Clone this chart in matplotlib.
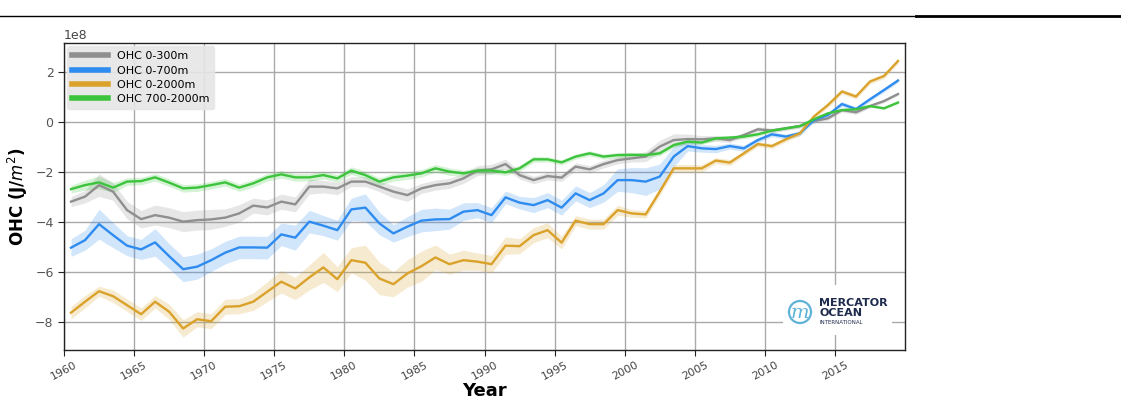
import numpy as np
import matplotlib
matplotlib.use("Agg")
import matplotlib.pyplot as plt
from matplotlib.patches import Circle
from matplotlib.lines import Line2D

# ── Data (units of 1e8 J/m^2, annual means at mid-year) ──────────────────────
years = np.arange(1960, 2020) + 0.5

ohc_300 = [
    -3.17, -2.97, -2.51, -2.77, -3.51, -3.87, -3.71, -3.81, -3.97, -3.91,
    -3.88, -3.81, -3.64, -3.33, -3.40, -3.17, -3.28, -2.57, -2.57, -2.64,
    -2.37, -2.37, -2.57, -2.77, -2.91, -2.64, -2.51, -2.44, -2.24, -1.93,
    -1.88, -1.67, -2.11, -2.31, -2.15, -2.21, -1.77, -1.88, -1.67, -1.51,
    -1.44, -1.37, -0.97, -0.71, -0.67, -0.68, -0.64, -0.71, -0.51, -0.28,
    -0.33, -0.24, -0.15, 0.05, 0.16, 0.49, 0.40, 0.65, 0.85, 1.13,
]
ohc_700 = [
    -5.01, -4.71, -4.07, -4.51, -4.93, -5.08, -4.80, -5.35, -5.87, -5.77,
    -5.51, -5.21, -5.00, -5.00, -5.01, -4.48, -4.61, -3.97, -4.13, -4.31,
    -3.48, -3.41, -4.04, -4.44, -4.17, -3.93, -3.88, -3.87, -3.57, -3.51,
    -3.71, -3.00, -3.21, -3.31, -3.11, -3.41, -2.84, -3.11, -2.84, -2.31,
    -2.31, -2.37, -2.17, -1.37, -0.95, -1.04, -1.07, -0.95, -1.04, -0.71,
    -0.48, -0.57, -0.44, 0.09, 0.29, 0.73, 0.53, 0.92, 1.29, 1.67,
]
ohc_2000 = [
    -7.61, -7.17, -6.75, -6.95, -7.31, -7.67, -7.17, -7.57, -8.24, -7.87,
    -7.95, -7.37, -7.35, -7.17, -6.77, -6.37, -6.64, -6.20, -5.80, -6.27,
    -5.51, -5.61, -6.24, -6.47, -6.04, -5.75, -5.40, -5.67, -5.51, -5.57,
    -5.67, -4.93, -4.95, -4.51, -4.31, -4.81, -3.93, -4.07, -4.07, -3.51,
    -3.64, -3.68, -2.77, -1.84, -1.84, -1.84, -1.53, -1.61, -1.24, -0.87,
    -0.95, -0.68, -0.44, 0.23, 0.69, 1.23, 1.03, 1.63, 1.85, 2.45,
]
ohc_deep = [
    -2.67, -2.51, -2.40, -2.61, -2.37, -2.35, -2.20, -2.41, -2.64, -2.61,
    -2.51, -2.40, -2.61, -2.44, -2.20, -2.08, -2.20, -2.20, -2.11, -2.24,
    -1.93, -2.11, -2.37, -2.20, -2.13, -2.04, -1.84, -1.97, -2.04, -1.93,
    -1.93, -2.00, -1.84, -1.48, -1.48, -1.60, -1.37, -1.24, -1.37, -1.31,
    -1.30, -1.31, -1.24, -0.91, -0.77, -0.81, -0.64, -0.61, -0.57, -0.48,
    -0.33, -0.24, -0.15, 0.12, 0.36, 0.49, 0.52, 0.65, 0.56, 0.79,
]

# half-width of the shaded uncertainty band
err_300 = [
    0.20, 0.25, 0.45, 0.35, 0.35, 0.35, 0.40, 0.40, 0.40, 0.40,
    0.40, 0.35, 0.35, 0.30, 0.30, 0.30, 0.30, 0.30, 0.25, 0.25,
    0.20, 0.20, 0.20, 0.25, 0.25, 0.20, 0.20, 0.20, 0.20, 0.20,
    0.20, 0.20, 0.15, 0.15, 0.15, 0.15, 0.15, 0.15, 0.15, 0.15,
    0.15, 0.20, 0.25, 0.25, 0.20, 0.15, 0.12, 0.10, 0.10, 0.10,
    0.10, 0.08, 0.08, 0.08, 0.08, 0.08, 0.08, 0.08, 0.06, 0.06,
]
err_700 = [
    0.35, 0.40, 0.60, 0.50, 0.40, 0.40, 0.55, 0.50, 0.50, 0.50,
    0.45, 0.45, 0.45, 0.45, 0.45, 0.45, 0.50, 0.45, 0.40, 0.40,
    0.45, 0.55, 0.45, 0.35, 0.40, 0.45, 0.45, 0.40, 0.35, 0.30,
    0.30, 0.25, 0.25, 0.30, 0.30, 0.30, 0.30, 0.30, 0.35, 0.45,
    0.50, 0.55, 0.50, 0.40, 0.20, 0.15, 0.15, 0.12, 0.12, 0.10,
    0.10, 0.10, 0.10, 0.10, 0.10, 0.10, 0.08, 0.08, 0.08, 0.08,
]
err_2000 = [
    0.25, 0.25, 0.20, 0.25, 0.25, 0.25, 0.25, 0.30, 0.35, 0.30,
    0.30, 0.30, 0.30, 0.35, 0.40, 0.45, 0.45, 0.50, 0.60, 0.50,
    0.50, 0.70, 0.65, 0.50, 0.55, 0.60, 0.50, 0.40, 0.40, 0.35,
    0.35, 0.35, 0.30, 0.30, 0.30, 0.25, 0.20, 0.20, 0.20, 0.20,
    0.15, 0.15, 0.15, 0.15, 0.15, 0.15, 0.12, 0.12, 0.10, 0.10,
    0.10, 0.10, 0.10, 0.10, 0.10, 0.10, 0.10, 0.10, 0.10, 0.10,
]
err_deep = [
    0.15, 0.20, 0.25, 0.20, 0.15, 0.15, 0.15, 0.15, 0.15, 0.15,
    0.15, 0.15, 0.15, 0.15, 0.15, 0.15, 0.15, 0.15, 0.15, 0.15,
    0.15, 0.15, 0.15, 0.15, 0.15, 0.15, 0.15, 0.15, 0.12, 0.12,
    0.12, 0.12, 0.12, 0.12, 0.10, 0.10, 0.10, 0.10, 0.10, 0.10,
    0.10, 0.10, 0.10, 0.10, 0.08, 0.08, 0.08, 0.08, 0.08, 0.08,
    0.06, 0.06, 0.06, 0.05, 0.05, 0.05, 0.05, 0.05, 0.05, 0.05,
]

labels = ["OHC 0-300m", "OHC 0-700m", "OHC 0-2000m", "OHC 700-2000m"]
colors = ["#8f8f8f", "#2e8cf0", "#daa22a", "#3cc43c"]
xticks = list(range(1960, 2020, 5))

# ── Figure ────────────────────────────────────────────────────────────────────
fig = plt.figure(figsize=(11.21, 4.2), dpi=100, facecolor="white")
ax = fig.add_axes([64 / 1121, 70 / 420, 841 / 1121, 307 / 420])

scale = 1e8
series = [(ohc_300, err_300), (ohc_700, err_700),
          (ohc_2000, err_2000), (ohc_deep, err_deep)]
for (vals, err), clr, lab in zip(series, colors, labels):
    v = np.array(vals) * scale
    e = np.array(err) * scale
    ax.fill_between(years, v - e, v + e, color=clr, alpha=0.22, lw=0, zorder=2)
    ax.plot(years, v, color=clr, lw=1.7, label=lab, zorder=3)

ax.set_xlim(1960, 2020)
ax.set_ylim(-9.1e8, 3.17e8)
ax.set_xticks(xticks)
ax.set_yticks(np.array([-8, -6, -4, -2, 0, 2]) * scale)
ax.grid(True, color="#aaaaaa", lw=1.0, zorder=0)
ax.set_axisbelow(True)
for s in ax.spines.values():
    s.set_color("#222222")
    s.set_linewidth(1.0)
ax.tick_params(axis="x", labelsize=8, labelcolor="#444444", length=4,
               color="#222222", pad=3)
ax.tick_params(axis="y", labelsize=9, labelcolor="#555555", length=4,
               color="#222222")
plt.setp(ax.get_xticklabels(), rotation=28, ha="center")
ax.yaxis.get_offset_text().set_fontsize(9)
ax.yaxis.get_offset_text().set_color("#444444")

ax.set_xlabel("Year", fontsize=13, fontweight="bold", labelpad=0)
ax.set_ylabel("OHC (J/$m^2$)", fontsize=12, fontweight="bold", labelpad=4)

handles = [Line2D([], [], color=c, lw=4) for c in colors]
leg = ax.legend(handles, labels, loc="upper left", fontsize=8,
                facecolor="#e6e6e6", edgecolor="#e6e6e6", framealpha=0.9,
                borderaxespad=0.3, handlelength=3.2, labelspacing=0.38,
                borderpad=0.45)
leg.set_zorder(5)

# ── Logo ──────────────────────────────────────────────────────────────────────
lax = fig.add_axes([783 / 1121, 85 / 420, 109 / 1121, 50 / 420], zorder=4)
lax.set_xlim(0, 109)
lax.set_ylim(0, 50)
lax.set_xticks([])
lax.set_yticks([])
for s in lax.spines.values():
    s.set_visible(False)
lax.set_facecolor("white")
lax.add_patch(Circle((17, 23), 11, fill=False, ec="#5fb3d8", lw=1.6))
lax.text(17, 22, "m", color="#5fb3d8", fontsize=14, style="italic",
         family="DejaVu Serif", ha="center", va="center")
lax.text(36, 32, "MERCATOR", color="#1f2b4d", fontsize=8, fontweight="bold",
         ha="left", va="center")
lax.text(36, 22, "OCEAN", color="#1f2b4d", fontsize=8, fontweight="bold",
         ha="left", va="center")
lax.text(36, 12, "INTERNATIONAL", color="#1f2b4d", fontsize=4,
         ha="left", va="center")

# top rule across the page
fig.add_artist(Line2D([0, 916 / 1121], [1 - 16 / 420] * 2, color="black",
                      lw=1.0, transform=fig.transFigure))
fig.add_artist(Line2D([916 / 1121, 1], [1 - 16 / 420] * 2, color="black",
                      lw=2.0, transform=fig.transFigure))

fig.savefig("out.png", dpi=100, facecolor="white")
